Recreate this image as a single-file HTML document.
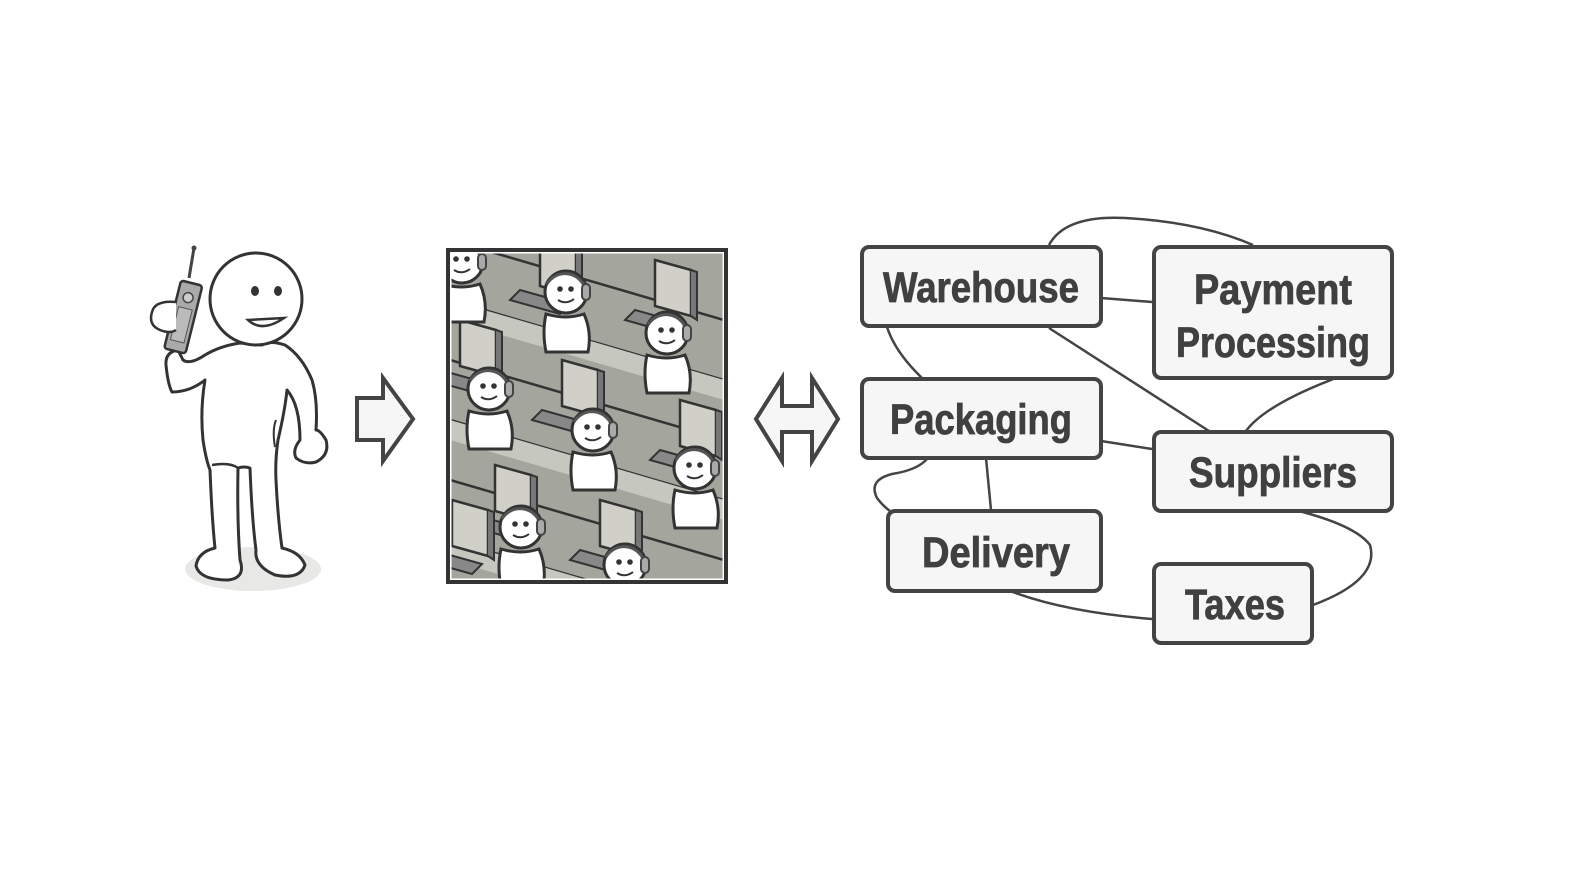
<!DOCTYPE html>
<html><head><meta charset="utf-8"><style>
html,body{margin:0;padding:0;background:#fff;}
svg{display:block;}
text{font-family:"Liberation Sans",sans-serif;font-weight:bold;fill:#404040;}
</style></head><body>
<svg width="1596" height="890" viewBox="0 0 1596 890" xmlns="http://www.w3.org/2000/svg">
<defs>
<clipPath id="cc"><rect x="450" y="252" width="274" height="328"/></clipPath>
<g id="head">
  <circle cx="0" cy="0" r="21" fill="#fff" stroke="#333" stroke-width="3"/>
  <circle cx="-6" cy="-3" r="2.8" fill="#333"/><circle cx="5" cy="-3" r="2.8" fill="#333"/>
  <path d="M-8 8 Q0 13 8 7" fill="none" stroke="#333" stroke-width="2"/>
  <path d="M-19 -8 A21 21 0 0 1 19 -4" fill="none" stroke="#555" stroke-width="3"/>
  <rect x="16" y="-8" width="8" height="16" rx="4" fill="#aaa" stroke="#444" stroke-width="2"/>
</g>
<g id="desk">
  <path d="M0 0 L36 10 L36 56 L0 46 Z" fill="#d0d0c8" stroke="#333" stroke-width="2.5"/>
  <path d="M36 10 L42 12 L42 60 L36 56" fill="#777" stroke="#333" stroke-width="2"/>
  <path d="M-20 50 L30 64 L20 74 L-30 60 Z" fill="#888" stroke="#333" stroke-width="2"/>
</g>
<g id="body">
  <path d="M-20 22 Q-24 40 -20 60 L22 60 Q26 40 18 22 Q0 28 -20 22 Z" fill="#fff" stroke="#333" stroke-width="3"/>
</g>
</defs>

<!-- Figure -->
<ellipse cx="253" cy="569" rx="68" ry="22" fill="#e8e8e6"/>
<path d="M240 343 Q220 346 205 355 Q190 365 183 360 L178 350 Q165 352 166 365 Q168 385 172 392 Q190 392 205 380
 Q200 410 203 440 Q206 460 210 470 Q212 520 215 548 Q198 552 196 566 Q200 580 228 580 Q246 578 240 560 Q237 520 238 468
 Q244 466 250 468 Q252 520 256 550 Q254 566 275 575 Q300 580 305 565 Q300 552 282 548 Q278 520 276 480
 Q275 460 278 440 Q285 410 287 390 Q300 405 300 440 Q292 450 296 458 Q305 465 316 462 Q330 455 326 440 Q320 430 316 430
 Q318 400 312 380 Q302 356 285 345 Q270 340 262 345 Z" fill="#fff" stroke="#333" stroke-width="3" stroke-linejoin="round"/>
<path d="M212 465 Q230 462 238 468" fill="none" stroke="#333" stroke-width="2.5"/>
<path d="M275 447 Q272 430 276 420" fill="none" stroke="#333" stroke-width="2"/>
<circle cx="256" cy="299" r="46" fill="#fff" stroke="#333" stroke-width="3"/>
<ellipse cx="255" cy="291" rx="4" ry="5" fill="#333"/><ellipse cx="278" cy="291" rx="4" ry="5" fill="#333"/>
<path d="M248 320 Q262 333 284 318 Z" fill="#fff" stroke="#333" stroke-width="2.5"/>
<!-- phone -->
<line x1="189" y1="278" x2="194" y2="248" stroke="#444" stroke-width="3"/>
<circle cx="194" cy="248" r="2.5" fill="#444"/>
<g transform="rotate(14 183 318)">
<rect x="172" y="282" width="22" height="70" rx="3" fill="#aaa" stroke="#333" stroke-width="2.5"/>
<circle cx="183" cy="297" r="5" fill="#ccc" stroke="#444" stroke-width="1.5"/>
<rect x="176" y="308" width="14" height="34" fill="#bbb" stroke="#555" stroke-width="1"/>
</g>
<path d="M176 302 Q155 300 152 312 Q148 325 160 330 Q170 334 176 330" fill="#fff" stroke="#333" stroke-width="2.5"/>

<!-- right arrow -->
<path d="M357 398 L383 398 L383 378 L413 419 L383 461 L383 440 L357 440 Z" fill="#f6f6f6" stroke="#444" stroke-width="4"/>

<!-- call center -->
<rect x="450" y="252" width="274" height="328" fill="#a4a59d"/>
<g clip-path="url(#cc)">
  <path d="M450 300 L724 380 M450 360 L724 440 M450 420 L724 500 M450 480 L724 560 M450 540 L724 620 M450 240 L724 320" stroke="#333" stroke-width="2.5"/>
  <g fill="#c6c7bf">
    <path d="M450 300 L724 380 L724 400 L450 320Z"/><path d="M450 420 L724 500 L724 520 L450 440Z"/>
    <path d="M450 540 L724 620 L724 640 L450 560Z"/>
  </g>
  <use href="#desk" x="460" y="320"/><use href="#desk" x="562" y="360"/><use href="#desk" x="655" y="260"/>
  <use href="#desk" x="495" y="465"/><use href="#desk" x="600" y="500"/><use href="#desk" x="680" y="400"/>
  <use href="#desk" x="540" y="240"/><use href="#desk" x="452" y="500"/>
  <g transform="translate(566 292)"><use href="#body"/><use href="#head"/></g>
  <g transform="translate(667 333)"><use href="#body"/><use href="#head"/></g>
  <g transform="translate(489 389)"><use href="#body"/><use href="#head"/></g>
  <g transform="translate(593 430)"><use href="#body"/><use href="#head"/></g>
  <g transform="translate(695 468)"><use href="#body"/><use href="#head"/></g>
  <g transform="translate(521 527)"><use href="#body"/><use href="#head"/></g>
  <g transform="translate(625 565)"><use href="#body"/><use href="#head"/></g>
  <g transform="translate(462 262)"><use href="#body"/><use href="#head"/></g>
</g>
<rect x="450" y="252" width="274" height="328" fill="none" stroke="#fff" stroke-width="3"/>
<rect x="448" y="250" width="278" height="332" fill="none" stroke="#333" stroke-width="4"/>

<!-- double arrow -->
<path d="M756 419 L782 378 L782 406 L812 406 L812 378 L838 419 L812 461 L812 432 L782 432 L782 461 Z" fill="#f6f6f6" stroke="#444" stroke-width="4"/>

<!-- connectors -->
<g fill="none" stroke="#444" stroke-width="2.5">
  <path d="M1049 245 Q1065 215 1125 218 Q1200 222 1253 245"/>
  <path d="M1101 298 L1152 302"/>
  <path d="M887 327 Q895 352 922 378"/>
  <path d="M1049 328 L1209 431"/>
  <path d="M1336 378 Q1265 405 1246 431"/>
  <path d="M1101 441 L1152 449"/>
  <path d="M928 458 Q918 470 892 474 Q868 480 877 498 Q883 506 890 511"/>
  <path d="M986 458 L991 510"/>
  <path d="M1295 510 Q1355 525 1370 545 Q1380 580 1313 605"/>
  <path d="M1010 591 Q1065 612 1152 619"/>
</g>

<!-- boxes -->
<g fill="#f6f6f6" stroke="#444" stroke-width="4">
  <rect x="862" y="247" width="239" height="79" rx="7"/>
  <rect x="1154" y="247" width="238" height="131" rx="7"/>
  <rect x="862" y="379" width="239" height="79" rx="7"/>
  <rect x="1154" y="432" width="238" height="79" rx="7"/>
  <rect x="888" y="511" width="213" height="80" rx="7"/>
  <rect x="1154" y="564" width="158" height="79" rx="7"/>
</g>
<g font-size="43" text-anchor="middle" stroke="#404040" stroke-width="0.8">
  <text x="981" y="302" textLength="196" lengthAdjust="spacingAndGlyphs">Warehouse</text>
  <text x="1273" y="304" textLength="158" lengthAdjust="spacingAndGlyphs">Payment</text>
  <text x="1273" y="357" textLength="194" lengthAdjust="spacingAndGlyphs">Processing</text>
  <text x="981" y="434" textLength="182" lengthAdjust="spacingAndGlyphs">Packaging</text>
  <text x="1273" y="487" textLength="168" lengthAdjust="spacingAndGlyphs">Suppliers</text>
  <text x="996" y="567" textLength="148" lengthAdjust="spacingAndGlyphs">Delivery</text>
  <text x="1235" y="619" textLength="100" lengthAdjust="spacingAndGlyphs">Taxes</text>
</g>
</svg>
</body></html>
